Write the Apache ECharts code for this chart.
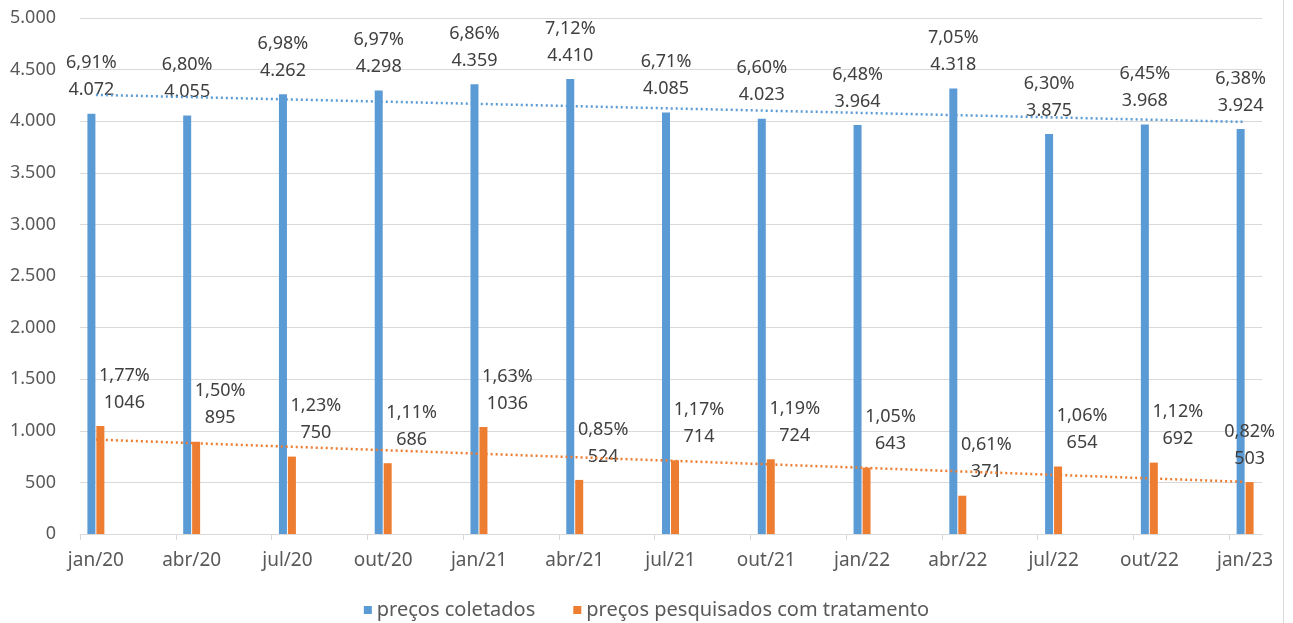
<!DOCTYPE html>
<html>
<head>
<meta charset="utf-8">
<script src="https://cdn.jsdelivr.net/npm/echarts@6/dist/echarts.min.js"></script>
<style>html,body{margin:0;padding:0;background:#fff}#c{width:1293px;height:623px}</style>
</head>
<body>
<div id="c"></div>
<script>
const months = ['jan/20','abr/20','jul/20','out/20','jan/21','abr/21','jul/21','out/21','jan/22','abr/22','jul/22','out/22','jan/23'];
const coletados = [4072,4055,4262,4298,4359,4410,4085,4023,3964,4318,3875,3968,3924];
const coletadosPct = ['6,91%','6,80%','6,98%','6,97%','6,86%','7,12%','6,71%','6,60%','6,48%','7,05%','6,30%','6,45%','6,38%'];
const tratamento = [1046,895,750,686,1036,524,714,724,643,371,654,692,503];
const tratamentoPct = ['1,77%','1,50%','1,23%','1,11%','1,63%','0,85%','1,17%','1,19%','1,05%','0,61%','1,06%','1,12%','0,82%'];
// trend line end points (first and last category)
const trendColetados = [4255, 3993];
const trendTratamento = [915, 505];
const yTicks = { min: 0, max: 5000, interval: 500 };
const names = ['preços coletados', 'preços pesquisados com tratamento'];

const FONT = 'Noto Sans';
const GRAY = '#595959';
const GRID_LINE = '#d9d9d9';
const BLUE = '#5B9BD5';
const ORANGE = '#ED7D31';

const fmtThousands = v => String(v).replace(/\B(?=(\d{3})+(?!\d))/g, '.');
const n = months.length;
const trendData = ends => months.map((_, i) => i === 0 ? ends[0] : (i === n - 1 ? ends[1] : null));

const chart = echarts.init(document.getElementById('c'), null, { renderer: 'canvas' });
const option = {
  backgroundColor: '#ffffff',
  animation: false,
  textStyle: { fontFamily: FONT },
  grid: [
    { left: 80, right: 31, top: 18, bottom: 89 },
    { left: 80, right: 64, top: 18, bottom: 89 },
    { left: 48, right: 0, top: 18, bottom: 89 }
  ],
  xAxis: [
    { gridIndex: 0, type: 'value', min: 0, max: 12.34, axisLine: { show: true, onZero: false, lineStyle: { color: GRID_LINE, width: 1 } },
      axisTick: { show: false }, axisLabel: { show: false }, splitLine: { show: false } },
    { gridIndex: 1, type: 'value', min: 0, max: 12, interval: 1, axisLine: { show: false },
      axisTick: { show: true, length: 6, lineStyle: { color: GRID_LINE } }, axisLabel: { show: false }, splitLine: { show: false } },
    { gridIndex: 2, type: 'category', data: months, boundaryGap: true, axisLine: { show: false }, axisTick: { show: false },
      axisLabel: { color: GRAY, fontSize: 19, margin: 17, fontFamily: FONT } }
  ],
  yAxis: [
    { gridIndex: 0, type: 'value', min: yTicks.min, max: yTicks.max, interval: yTicks.interval,
      axisLine: { show: false }, axisTick: { show: false },
      axisLabel: { color: GRAY, fontSize: 18, margin: 24, fontFamily: FONT, formatter: v => fmtThousands(v) },
      splitLine: { lineStyle: { color: GRID_LINE, width: 1 } } },
    { gridIndex: 1, type: 'value', min: yTicks.min, max: yTicks.max, show: false, splitLine: { show: false } },
    { gridIndex: 2, type: 'value', min: yTicks.min, max: yTicks.max, show: false, splitLine: { show: false } }
  ],
  legend: {
    data: names, left: 'center', top: 595, icon: 'rect', itemWidth: 8, itemHeight: 8, itemGap: 38,
    textStyle: { color: GRAY, fontSize: 20, fontFamily: FONT }
  },
  series: [
    {
      name: names[0], type: 'bar', xAxisIndex: 2, yAxisIndex: 2, data: coletados, barWidth: 8, barGap: '12%',
      itemStyle: { color: BLUE },
      label: { show: true, position: 'top', distance: 10, color: '#404040', fontSize: 18, lineHeight: 27, fontFamily: FONT,
        formatter: p => coletadosPct[p.dataIndex] + '\n' + fmtThousands(p.value) }
    },
    {
      name: names[1], type: 'bar', xAxisIndex: 2, yAxisIndex: 2, barWidth: 8,
      data: tratamento.map((v, i) => ({ value: v, label: { offset: [i === n - 1 ? 0 : 24, 0] } })),
      itemStyle: { color: ORANGE },
      label: { show: true, position: 'top', distance: 10, color: '#404040', fontSize: 18, lineHeight: 27, fontFamily: FONT,
        formatter: p => tratamentoPct[p.dataIndex] + '\n' + p.value }
    },
    {
      name: 'trend1', type: 'line', xAxisIndex: 2, yAxisIndex: 2, data: trendData(trendColetados), connectNulls: true,
      symbol: 'none', silent: true, z: 5, lineStyle: { color: BLUE, width: 2.5, type: [2, 3] }
    },
    {
      name: 'trend2', type: 'line', xAxisIndex: 2, yAxisIndex: 2, data: trendData(trendTratamento), connectNulls: true,
      symbol: 'none', silent: true, z: 5, lineStyle: { color: ORANGE, width: 2.5, type: [2, 3] }
    }
  ],
  graphic: [
    { type: 'line', shape: { x1: 1283.5, y1: 0, x2: 1283.5, y2: 623 }, style: { stroke: GRID_LINE, lineWidth: 1 } }
  ]
};
chart.setOption(option);
</script>
</body>
</html>
